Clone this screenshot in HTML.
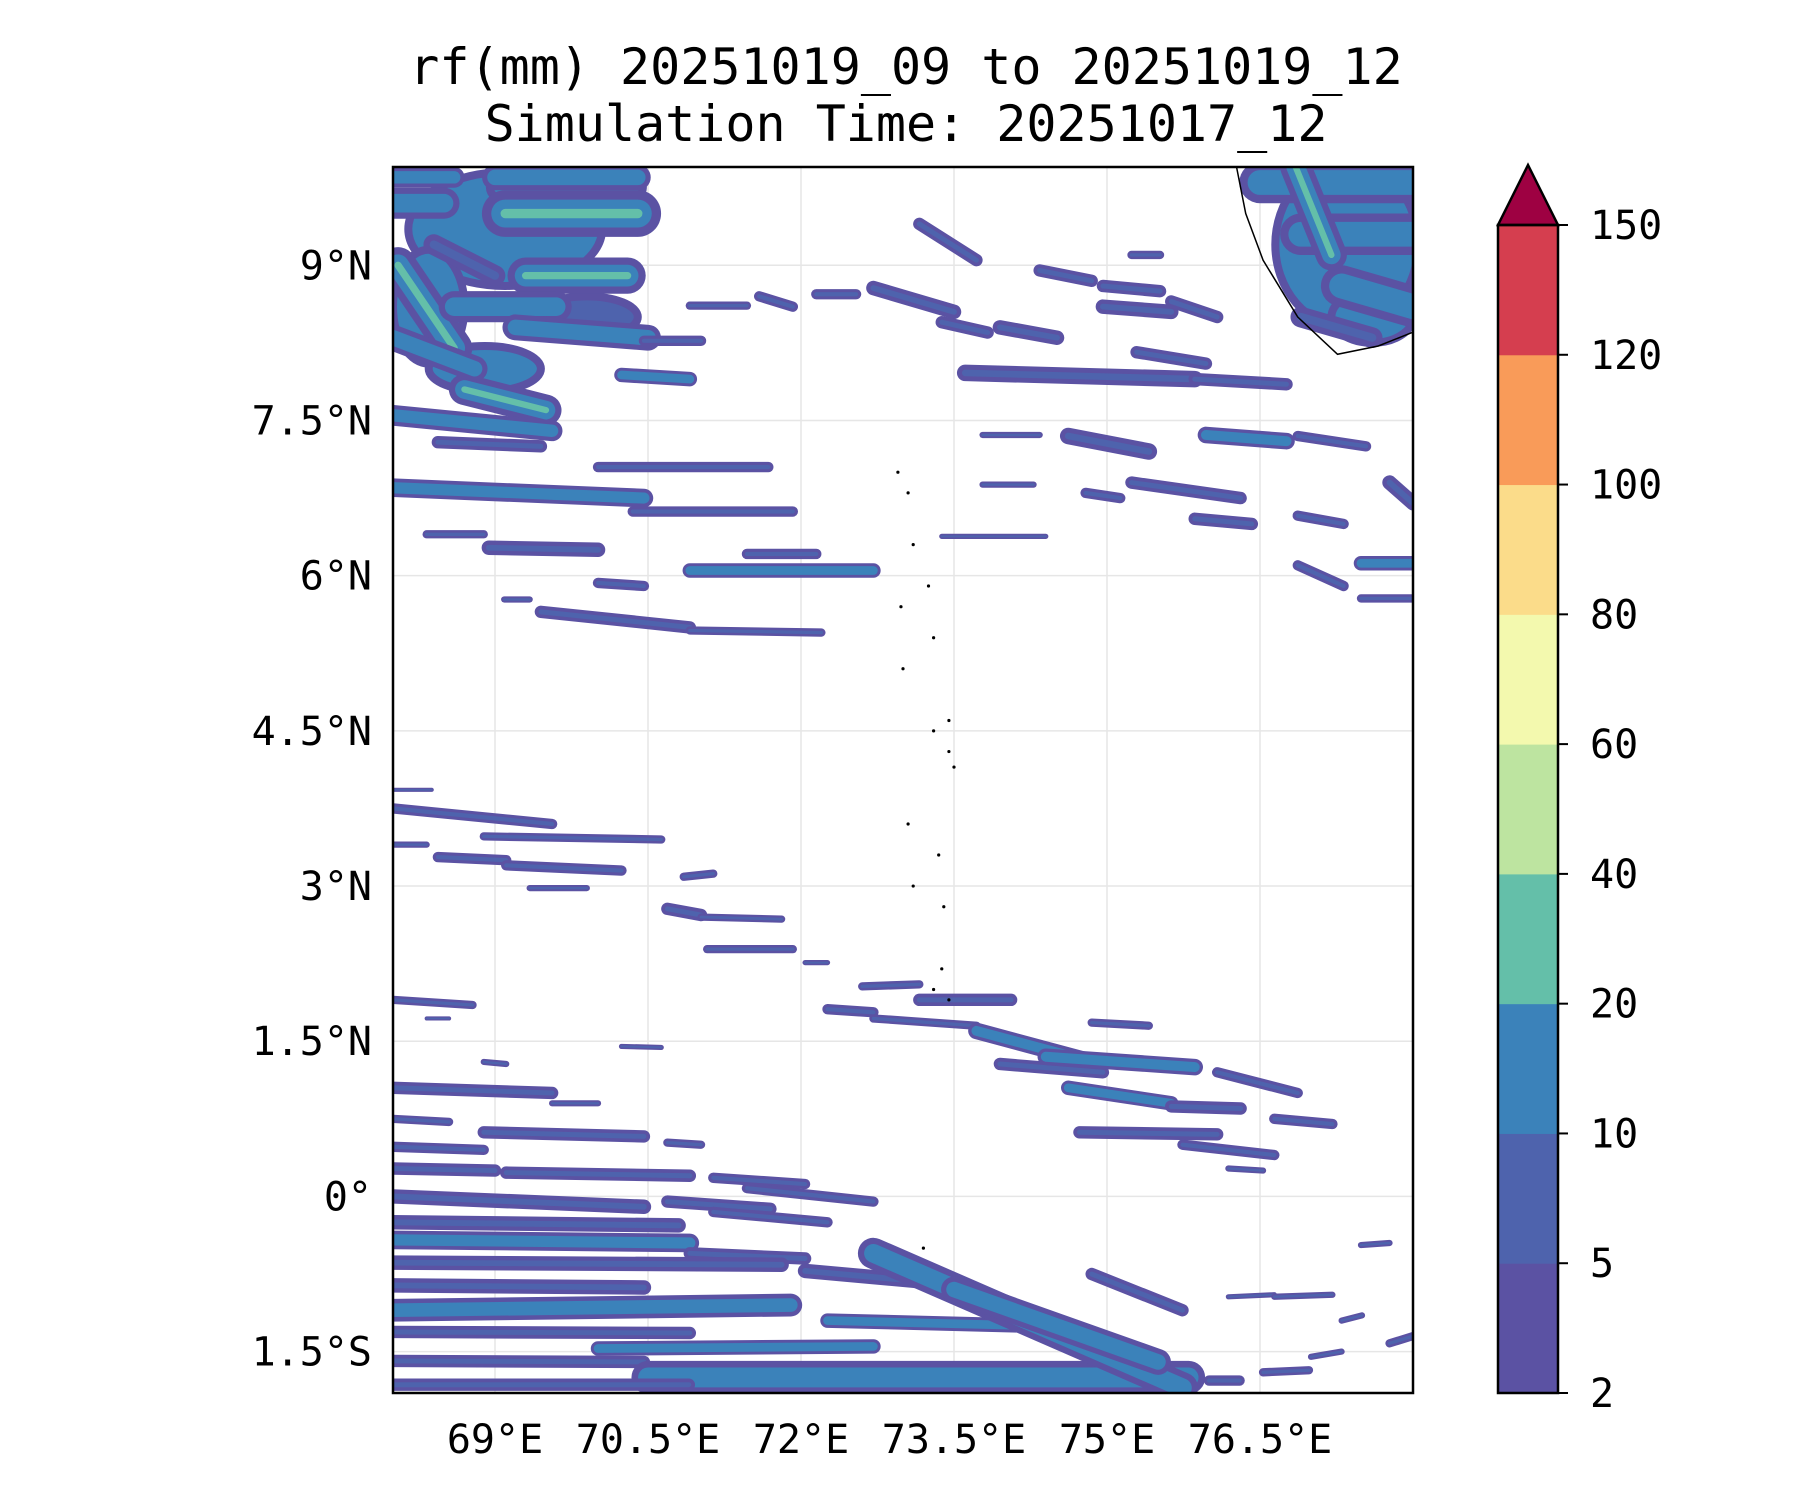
<!DOCTYPE html>
<html><head><meta charset="utf-8"><style>
body{margin:0;background:#fff}
svg{display:block}
text{font-family:"DejaVu Sans Mono","Liberation Mono",monospace;fill:#000}
</style></head><body>
<svg id="s" width="1800" height="1500" viewBox="0 0 1800 1500">
<text x="906" y="84" font-size="50" text-anchor="middle">rf(mm) 20251019_09 to 20251019_12</text>
<text x="906" y="141" font-size="50" text-anchor="middle">Simulation Time: 20251017_12</text>
<g id="grid"></g>
<g id="rain"></g>
<g id="land"></g>
<rect x="393" y="167" width="1020" height="1226" fill="none" stroke="#000" stroke-width="2.5"/>
<g id="ticks"></g>
<g id="cbar"></g>
</svg>
<script>
const latTicks=[9,7.5,6,4.5,3,1.5,0,-1.5];
const latLabels=["9°N","7.5°N","6°N","4.5°N","3°N","1.5°N","0°","1.5°S"];
const lonTicks=[69,70.5,72,73.5,75,76.5];
const lonLabels=["69°E","70.5°E","72°E","73.5°E","75°E","76.5°E"];
const cbLevels=["2","5","10","20","40","60","80","100","120","150"];
const cbColors=["#5b52a3","#4e63ad","#3b82ba","#64bfa9","#bde4a0","#f3f9ae","#fbdc8a","#f99b59","#d53e4f"];
const extendColor="#9e0142";
// blobs: lon, lat, radiusLon, radiusLat, level
const blobs=[
[69.1,9.35,0.95,0.55,1],[68.35,8.6,0.35,0.55,1],[69.7,9.75,0.75,0.25,1],[68.9,8.0,0.55,0.22,1],[69.9,8.5,0.5,0.2,0],
[77.35,9.2,0.7,0.8,1],[77.6,8.5,0.4,0.25,1]
];
// streaks: lon0, lat0, lon1, lat1, width(deg), level
const streaks=[
[68.0,9.6,68.5,9.6,0.3,1],[69.0,9.85,70.4,9.85,0.25,1],[69.1,9.5,70.4,9.5,0.45,2],[69.3,8.9,70.3,8.9,0.35,2],
[68.05,9.0,68.6,8.2,0.35,2],[68.6,8.6,69.6,8.6,0.3,1],[68.7,7.8,69.5,7.6,0.3,2],[68.0,8.3,68.8,8.0,0.25,1],
[69.2,8.4,70.5,8.3,0.25,1],[68.4,9.2,69.0,8.9,0.2,0],[68.0,9.85,68.6,9.85,0.2,1],
[76.5,9.8,78,9.8,0.4,1],[76.9,9.3,78,9.3,0.4,1],[77.3,8.8,78,8.6,0.4,1],[76.9,8.5,77.6,8.3,0.2,0],[76.85,9.95,77.2,9.1,0.3,2],
[70.01,7.05,71.68,7.05,0.1,0],[68.0,6.85,70.46,6.75,0.18,1],[70.35,6.62,71.92,6.62,0.1,0],[68.33,6.4,68.89,6.4,0.08,0],
[68.94,6.27,70.01,6.25,0.14,0],[70.91,6.05,72.71,6.05,0.14,1],[71.47,6.21,72.15,6.21,0.1,0],[69.09,5.77,69.34,5.77,0.06,0],
[69.45,5.65,70.91,5.5,0.12,0],[70.91,5.47,72.2,5.45,0.08,0],[70.01,5.93,70.46,5.9,0.1,0],[68.44,7.29,69.45,7.25,0.12,0],
[68.0,7.55,69.56,7.4,0.2,1],[70.24,7.94,70.91,7.9,0.14,1],[70.46,8.27,71.02,8.27,0.1,0],[70.91,8.61,71.47,8.61,0.08,0],
[71.59,8.7,71.92,8.6,0.1,0],[72.15,8.72,72.54,8.72,0.1,0],[72.71,8.78,73.5,8.55,0.14,0],[73.38,8.45,73.83,8.35,0.12,0],
[73.95,8.4,74.51,8.3,0.14,0],[73.16,9.4,73.72,9.05,0.12,0],[74.34,8.95,74.85,8.85,0.12,0],[74.96,8.6,75.63,8.55,0.14,0],
[75.63,8.65,76.08,8.5,0.12,0],[73.61,7.96,75.86,7.9,0.16,0],[75.86,7.9,76.76,7.85,0.12,0],[75.29,8.16,75.97,8.05,0.12,0],
[74.62,7.35,75.41,7.2,0.16,0],[75.97,7.36,76.76,7.3,0.16,1],[76.87,7.35,77.54,7.25,0.1,0],[75.24,6.9,76.31,6.75,0.12,0],
[75.86,6.55,76.42,6.5,0.12,0],[76.87,6.58,77.32,6.5,0.1,0],[77.49,6.12,78,6.12,0.14,1],[77.49,5.78,78,5.78,0.08,0],
[76.87,6.1,77.32,5.9,0.1,0],[77.77,6.9,78,6.7,0.14,0],[73.78,7.36,74.34,7.36,0.06,0],[73.78,6.88,74.28,6.88,0.06,0],
[74.79,6.8,75.13,6.75,0.1,0],[73.38,6.38,74.4,6.38,0.05,0],[74.96,8.8,75.52,8.75,0.12,0],[75.24,9.1,75.52,9.1,0.08,0],
[68.0,3.93,68.38,3.93,0.04,0],[68.0,3.75,69.56,3.6,0.1,0],[68.89,3.48,70.63,3.45,0.08,0],[68.0,3.4,68.33,3.4,0.06,0],
[68.44,3.28,69.11,3.25,0.1,0],[69.11,3.2,70.24,3.15,0.1,0],[69.34,2.98,69.9,2.98,0.06,0],[70.85,3.09,71.14,3.12,0.08,0],
[70.69,2.78,71.02,2.72,0.12,0],[71.02,2.7,71.81,2.68,0.07,0],[71.08,2.39,71.92,2.39,0.08,0],[72.04,2.26,72.26,2.26,0.05,0],
[72.6,2.03,73.16,2.05,0.08,0],[73.16,1.9,74.06,1.9,0.12,0],[72.26,1.81,72.71,1.78,0.1,0],[72.71,1.72,73.72,1.65,0.08,0],
[73.72,1.6,74.85,1.3,0.16,1],[73.95,1.28,74.96,1.2,0.12,0],[74.4,1.35,75.86,1.25,0.16,1],[74.62,1.05,75.63,0.9,0.14,1],
[75.63,0.87,76.31,0.85,0.12,0],[74.73,0.62,76.08,0.6,0.12,0],[75.74,0.5,76.64,0.4,0.1,0],[76.19,0.27,76.53,0.25,0.06,0],
[76.64,0.75,77.21,0.7,0.1,0],[76.08,1.2,76.87,1.0,0.1,0],[74.85,1.68,75.41,1.65,0.08,0],[68.0,1.9,68.78,1.85,0.08,0],
[68.33,1.72,68.55,1.72,0.04,0],[70.24,1.45,70.63,1.44,0.05,0],[68.89,1.3,69.11,1.28,0.06,0],[68.0,1.05,69.56,1.0,0.12,0],
[69.56,0.9,70.01,0.9,0.06,0],[68.0,0.75,68.55,0.72,0.08,0],[68.89,0.62,70.46,0.58,0.12,0],[70.69,0.52,71.02,0.5,0.08,0],
[68.0,0.48,68.89,0.45,0.1,0],[68.0,0.27,69.0,0.25,0.12,0],[69.11,0.23,70.91,0.2,0.12,0],[71.14,0.18,72.04,0.12,0.1,0],
[71.47,0.08,72.71,-0.05,0.1,0],[68.0,0.0,70.46,-0.1,0.14,0],[70.69,-0.05,71.7,-0.12,0.12,0],[71.14,-0.15,72.26,-0.25,0.1,0],
[68.0,-0.25,70.8,-0.28,0.14,0],[68.0,-0.42,70.91,-0.45,0.18,1],[70.91,-0.55,72.04,-0.6,0.12,0],[68.0,-0.64,71.81,-0.66,0.14,0],
[72.04,-0.72,73.5,-0.85,0.14,0],[68.0,-0.86,70.46,-0.88,0.14,0],[68.0,-1.1,71.9,-1.05,0.22,1],[72.26,-1.2,74.28,-1.25,0.14,1],
[68.0,-1.31,70.91,-1.32,0.12,0],[70.01,-1.47,72.71,-1.45,0.14,1],[68.0,-1.59,70.46,-1.6,0.12,0],[70.5,-1.75,75.8,-1.75,0.32,1],
[68.0,-1.82,70.9,-1.82,0.12,0],[72.71,-0.55,75.74,-1.85,0.3,1],[73.5,-0.9,75.5,-1.6,0.25,1],[74.85,-0.75,75.74,-1.1,0.12,0],
[76.19,-0.97,76.64,-0.95,0.05,0],[76.64,-0.97,77.21,-0.95,0.06,0],[77.49,-0.47,77.77,-0.45,0.06,0],[76.53,-1.7,76.98,-1.68,0.08,0],
[77.77,-1.42,78,-1.35,0.08,0],[77.0,-1.55,77.3,-1.5,0.06,0],[77.3,-1.2,77.5,-1.15,0.06,0],[76.0,-1.78,76.3,-1.78,0.1,0]
];
const coastLon=[76.27,76.36,76.53,76.87,77.26,77.66,77.99];
const coastLat=[9.95,9.5,9.05,8.5,8.14,8.22,8.35];
const islandLon=[72.95,73.05,73.1,72.98,73.25,73.3,73.0,73.3,73.45,73.5,73.45,73.05,73.35,73.1,73.4,73.38,73.3,73.45,73.2];
const islandLat=[7.0,6.8,6.3,5.7,5.9,5.4,5.1,4.5,4.3,4.15,4.6,3.6,3.3,3.0,2.8,2.2,2.0,1.9,-0.5];

const NS="http://www.w3.org/2000/svg";
const X0=393,X1=1413,Y0=167,Y1=1393,LON0=68,LON1=78,LAT0=9.95,LAT1=-1.9;
function xs(lon){return X0+(lon-LON0)/(LON1-LON0)*(X1-X0);}
function ys(lat){return Y0+(LAT0-lat)/(LAT0-LAT1)*(Y1-Y0);}
const pxPerDeg=(Y1-Y0)/(LAT0-LAT1);
const pxPerLon=(X1-X0)/(LON1-LON0);
function mk(tag,attrs,parent){const e=document.createElementNS(NS,tag);for(const k in attrs)e.setAttribute(k,attrs[k]);parent.appendChild(e);return e;}

const grid=document.getElementById('grid');
latTicks.forEach(v=>{const l=mk('line',{x1:X0,x2:X1,y1:ys(v),y2:ys(v),stroke:'#e6e6e6','stroke-width':1.5},grid);

});
lonTicks.forEach(v=>{const l=mk('line',{x1:xs(v),x2:xs(v),y1:Y0,y2:Y1,stroke:'#e6e6e6','stroke-width':1.5},grid);

});

const rain=document.getElementById('rain');
const clip=mk('clipPath',{id:'pc'},mk('defs',{},document.getElementById('s')));
mk('rect',{x:X0,y:Y0,width:X1-X0,height:Y1-Y0},clip);
rain.setAttribute('clip-path','url(#pc)');
blobs.forEach(b=>{
  const [lo,la,rx,ry,lv]=b;
  const e=mk('ellipse',{cx:xs(lo),cy:ys(la),rx:rx*pxPerLon,ry:ry*pxPerDeg,fill:lv?cbColors[2]:cbColors[1],stroke:cbColors[0],'stroke-width':8},rain);
  
  
});
streaks.forEach(s=>{
  const [a,b,c,d,w,lv]=s;
  for(let k=0;k<=lv;k++){
    const col=k===0?cbColors[0]:(k===1?cbColors[2]:cbColors[3]);
    const ww=Math.max(3,w*pxPerDeg*(1-k*0.4));
    const l=mk('line',{x1:xs(a),y1:ys(b),x2:xs(c),y2:ys(d),stroke:col,'stroke-width':ww,'stroke-linecap':'round'},rain);
    
    
    if(k===0&&lv===0){
      const l2=mk('line',{x1:xs(a),y1:ys(b),x2:xs(c),y2:ys(d),stroke:cbColors[1],'stroke-width':Math.max(1,ww*0.4),'stroke-linecap':'round'},rain);
      
      
    }
  }
});

const land=document.getElementById('land');
const cp=mk('polyline',{points:coastLon.map((v,i)=>xs(v)+','+ys(coastLat[i])).join(' '),fill:'none',stroke:'#000','stroke-width':1.5},land);


islandLon.forEach((v,i)=>{const c=mk('circle',{cx:xs(v),cy:ys(islandLat[i]),r:1.6,fill:'#000'},land);

});

const tk=document.getElementById('ticks');
latTicks.forEach((v,i)=>{const t=mk('text',{x:372,y:ys(v)+14,'font-size':40,'text-anchor':'end'},tk);t.textContent=latLabels[i];

});
lonTicks.forEach((v,i)=>{const t=mk('text',{x:xs(v),y:1453,'font-size':40,'text-anchor':'middle'},tk);t.textContent=lonLabels[i];

});

const cb=document.getElementById('cbar');
const CX0=1498,CX1=1558,CT=225,CB=1393,seg=(CB-CT)/cbColors.length;
cbColors.forEach((c,i)=>{const r=mk('rect',{x:CX0,y:CB-(i+1)*seg,width:CX1-CX0,height:seg+0.5,fill:c},cb);

});
const tri=mk('polygon',{points:`${CX0},${CT} ${CX1},${CT} ${(CX0+CX1)/2},165`,fill:extendColor,stroke:'#000','stroke-width':2.5},cb);


const fr=mk('rect',{x:CX0,y:CT,width:CX1-CX0,height:CB-CT,fill:'none',stroke:'#000','stroke-width':2.5},cb);


cbLevels.forEach((v,i)=>{const y=CB-i*seg;
const l=mk('line',{x1:CX1,x2:CX1+10,y1:y,y2:y,stroke:'#000','stroke-width':2},cb);


const t=mk('text',{x:1590,y:y+14,'font-size':40},cb);t.textContent=v;

});
</script>
</body></html>
